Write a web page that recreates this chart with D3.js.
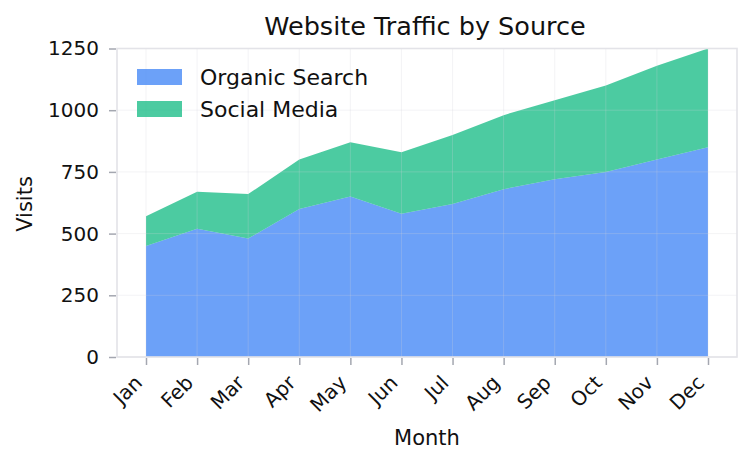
<!DOCTYPE html>
<html><head><meta charset="utf-8">
<script src="https://cdn.jsdelivr.net/npm/d3@7"></script>
<style>body{margin:0;background:#fff}svg{display:block;font-family:"DejaVu Sans",sans-serif}</style>
</head><body><svg id="c" width="753" height="464"></svg>
<script>
const months = ["Jan","Feb","Mar","Apr","May","Jun","Jul","Aug","Sep","Oct","Nov","Dec"];
const organic = [450,520,480,600,650,580,620,680,720,750,800,850];
const social = [120,150,180,200,220,250,280,300,320,350,380,400];
const seriesNames = ["Organic Search","Social Media"];
const seriesColors = ["rgba(59,130,246,0.75)","rgba(16,185,129,0.75)"];
const yTicks = [0,250,500,750,1000,1250];

const svg = d3.select("#c");
const L = 117, R = 737, T = 48.5, B = 357;
const x = d3.scalePoint().domain(months).range([146, 708]);
const y = d3.scaleLinear().domain([0,1250]).range([B, T]);

const table = months.map((m,i)=>({m, "Organic Search":organic[i], "Social Media":social[i]}));
const stack = d3.stack().keys(seriesNames)(table);

const area = d3.area().x(d=>x(d.data.m)).y0(d=>y(d[0])).y1(d=>y(d[1]));
svg.append("g").selectAll("path").data(stack).join("path")
  .attr("d", area).attr("fill",(d,i)=>seriesColors[i]);

// grid
const g = svg.append("g").attr("stroke","rgba(210,210,220,0.25)").attr("stroke-width",1);
months.forEach(m=>g.append("line").attr("x1",x(m)).attr("x2",x(m)).attr("y1",T).attr("y2",B));
yTicks.forEach(t=>g.append("line").attr("x1",L).attr("x2",R).attr("y1",y(t)).attr("y2",y(t)));

// frame
svg.append("rect").attr("x",L).attr("y",T).attr("width",R-L).attr("height",B-T)
  .attr("fill","none").attr("stroke","#e3e3e8").attr("stroke-width",1.6);

// axes
const yAxis = svg.append("g").attr("transform",`translate(${L-1},0)`)
  .call(d3.axisLeft(y).tickValues(yTicks).tickFormat(d3.format("d")).tickSize(7).tickPadding(10));
const xAxis = svg.append("g").attr("transform",`translate(0,${B+1})`)
  .call(d3.axisBottom(x).tickSize(7));
[yAxis,xAxis].forEach(a=>{
  a.select(".domain").remove();
  a.selectAll(".tick line").attr("stroke","#a4a7b0").attr("stroke-width",1.5);
  a.selectAll("text").attr("font-size",20).attr("fill","#111").attr("font-family","DejaVu Sans");
});
xAxis.selectAll("text").attr("text-anchor","end").attr("x",0).attr("y",0).attr("dy","0.35em")
  .attr("transform","translate(-8,21) rotate(-45)");

// title & labels
svg.append("text").attr("x",425).attr("y",35).attr("text-anchor","middle")
  .attr("font-size",25.5).attr("fill","#111").text("Website Traffic by Source");
svg.append("text").attr("x",427).attr("y",445).attr("text-anchor","middle")
  .attr("font-size",21).attr("fill","#111").text("Month");
svg.append("text").attr("transform","translate(32,204) rotate(-90)").attr("text-anchor","middle")
  .attr("font-size",21).attr("fill","#111").text("Visits");

// legend
const lg = svg.append("g");
seriesNames.forEach((n,i)=>{
  lg.append("rect").attr("x",137).attr("y",69+i*32).attr("width",45).attr("height",16).attr("fill",seriesColors[i]);
  lg.append("text").attr("x",200).attr("y",84.5+i*32).attr("font-size",22).attr("fill","#111").text(n);
});
</script></body></html>
